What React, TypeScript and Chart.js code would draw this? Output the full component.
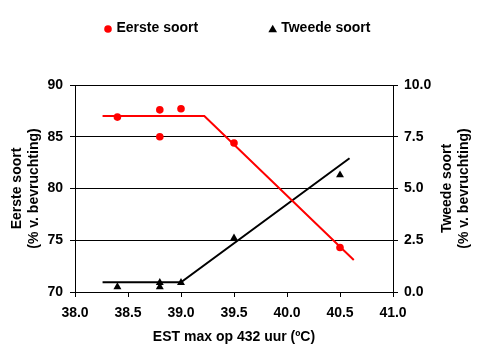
import { useEffect, useRef } from "react";
import { Chart, registerables } from "chart.js";

Chart.register(...registerables);

// ---- data ----
const eersteX = [38.4, 38.8, 38.8, 39.0, 39.5, 40.5];
const eersteY = [86.9, 87.6, 85.0, 87.7, 84.4, 74.3];
const tweedeX = [38.4, 38.8, 38.8, 39.0, 39.5, 40.5];
const tweedeY = [0.25, 0.25, 0.45, 0.45, 2.6, 5.65];
// piecewise trend lines
const eersteFitX = [38.26, 39.22, 40.63];
const eersteFitY = [87.0, 87.0, 73.1];
const tweedeFitX = [38.26, 39.0, 40.59];
const tweedeFitY = [0.47, 0.47, 6.46];

const xTicks = [38.0, 38.5, 39.0, 39.5, 40.0, 40.5, 41.0];
const xTickLabels = ["38.0", "38.5", "39.0", "39.5", "40.0", "40.5", "41.0"];
const leftTicks = [70, 75, 80, 85, 90];
const leftTickLabels = ["70", "75", "80", "85", "90"];
const rightTicks = [0, 2.5, 5, 7.5, 10];
const rightTickLabels = ["0.0", "2.5", "5.0", "7.5", "10.0"];

const seriesNames = ["Eerste soort", "Tweede soort"];
const xTitle = "EST max op 432 uur (ºC)";
const leftTitle = ["Eerste soort", "(% v. bevruchting)"];
const rightTitle = ["Tweede soort", "(% v. bevruchting)"];

const FONT = "'Liberation Sans', Arial, sans-serif";
const RED = "#ff0000";
const BLACK = "#000000";

const extrasPlugin = {
  id: "extras",
  afterDraw(chart: any) {
    const ctx = chart.ctx as CanvasRenderingContext2D;
    const area = chart.chartArea;
    ctx.save();
    ctx.font = `bold 14px ${FONT}`;
    ctx.fillStyle = BLACK;
    ctx.textBaseline = "middle";

    // legend
    const legendY = 28;
    const start1 = 103.5;
    const w1 = ctx.measureText(seriesNames[0]).width;
    const start2 = start1 + 13 + w1 + 70;
    // circle
    ctx.fillStyle = RED;
    ctx.beginPath();
    ctx.arc(start1 + 4.5, legendY + 1, 3.8, 0, Math.PI * 2);
    ctx.fill();
    ctx.fillStyle = BLACK;
    ctx.textAlign = "left";
    ctx.fillText(seriesNames[0], start1 + 13, legendY);
    // triangle
    const cx = start2 + 4.5;
    const cy = legendY + 1.8;
    const r = 5;
    ctx.beginPath();
    ctx.moveTo(cx, cy - r);
    ctx.lineTo(cx - r * Math.sin(Math.PI / 3), cy + r / 2);
    ctx.lineTo(cx + r * Math.sin(Math.PI / 3), cy + r / 2);
    ctx.closePath();
    ctx.fill();
    ctx.fillText(seriesNames[1], start2 + 13, legendY);

    // right axis title (reads bottom-to-top like the left one)
    ctx.translate(area.right + 54, (area.top + area.bottom) / 2);
    ctx.rotate(-Math.PI / 2);
    ctx.textAlign = "center";
    ctx.fillText(rightTitle[0], 0, 0);
    ctx.fillText(rightTitle[1], 0, 17);
    ctx.restore();
  },
};

export default function App() {
  const ref = useRef<HTMLCanvasElement | null>(null);

  useEffect(() => {
    if (!ref.current) return;
    const tickFont = { family: FONT, size: 14, weight: "bold" as const };
    const chart = new Chart(ref.current, {
      type: "scatter",
      data: {
        datasets: [
          {
            label: seriesNames[0],
            data: eersteX.map((x, i) => ({ x, y: eersteY[i] })),
            yAxisID: "y",
            pointStyle: "circle",
            pointRadius: 3.8,
            pointBackgroundColor: RED,
            pointBorderColor: RED,
            pointBorderWidth: 0,
            showLine: false,
            order: 0,
          },
          {
            label: seriesNames[1],
            data: tweedeX.map((x, i) => ({ x, y: tweedeY[i] })),
            yAxisID: "y2",
            pointStyle: "triangle",
            pointRadius: 4.6,
            pointBackgroundColor: BLACK,
            pointBorderColor: BLACK,
            pointBorderWidth: 0,
            showLine: false,
            order: 0,
          },
          {
            label: "fit1",
            data: eersteFitX.map((x, i) => ({ x, y: eersteFitY[i] })),
            yAxisID: "y",
            showLine: true,
            borderColor: RED,
            borderWidth: 2,
            pointRadius: 0,
            tension: 0,
            order: 1,
          },
          {
            label: "fit2",
            data: tweedeFitX.map((x, i) => ({ x, y: tweedeFitY[i] })),
            yAxisID: "y2",
            showLine: true,
            borderColor: BLACK,
            borderWidth: 2,
            pointRadius: 0,
            tension: 0,
            order: 2,
          },
        ],
      },
      options: {
        responsive: false,
        animation: false,
        events: [],
        layout: { padding: { top: 85, left: 0, right: 0, bottom: 0 } },
        plugins: {
          legend: { display: false },
          tooltip: { enabled: false },
          title: { display: false },
        },
        scales: {
          x: {
            type: "linear",
            min: 38,
            max: 41,
            afterBuildTicks: (s: any) => {
              s.ticks = xTicks.map((v) => ({ value: v }));
            },
            ticks: {
              color: BLACK,
              font: tickFont,
              padding: 8,
              maxRotation: 0,
              autoSkip: false,
              callback: (_v: any, i: number) => xTickLabels[i],
            },
            grid: { drawOnChartArea: false, drawTicks: true, tickLength: 5, color: BLACK },
            border: { display: true, color: BLACK, width: 1 },
            title: {
              display: true,
              text: xTitle,
              color: BLACK,
              font: tickFont,
              padding: { top: 0, bottom: 9 },
            },
            afterFit: (s: any) => {
              s.height = 63;
            },
          },
          y: {
            type: "linear",
            position: "left",
            min: 70,
            max: 90,
            afterBuildTicks: (s: any) => {
              s.ticks = leftTicks.map((v) => ({ value: v }));
            },
            ticks: {
              color: BLACK,
              font: tickFont,
              padding: 7,
              callback: (_v: any, i: number) => leftTickLabels[i],
            },
            grid: { color: BLACK, drawTicks: true, tickLength: 5, lineWidth: 1 },
            border: { display: true, color: BLACK, width: 1 },
            title: {
              display: true,
              text: leftTitle,
              color: BLACK,
              font: { family: FONT, size: 14, weight: "bold", lineHeight: 1.25 },
              padding: { top: 8, bottom: 0 },
            },
            afterFit: (s: any) => {
              s.width = 75;
            },
          },
          y2: {
            type: "linear",
            position: "right",
            min: 0,
            max: 10,
            afterBuildTicks: (s: any) => {
              s.ticks = rightTicks.map((v) => ({ value: v }));
            },
            ticks: {
              color: BLACK,
              font: tickFont,
              padding: 6,
              callback: (_v: any, i: number) => rightTickLabels[i],
            },
            grid: { drawOnChartArea: false, drawTicks: true, tickLength: 5, color: BLACK },
            border: { display: true, color: BLACK, width: 1 },
            afterFit: (s: any) => {
              s.width = 90;
            },
          },
        },
      },
      plugins: [extrasPlugin],
    });
    return () => chart.destroy();
  }, []);

  return (
    <div
      style={{
        position: "fixed",
        left: 0,
        top: 0,
        width: 483,
        height: 355,
        background: "#ffffff",
      }}
    >
      <canvas ref={ref} width={483} height={355} style={{ display: "block" }} />
    </div>
  );
}
